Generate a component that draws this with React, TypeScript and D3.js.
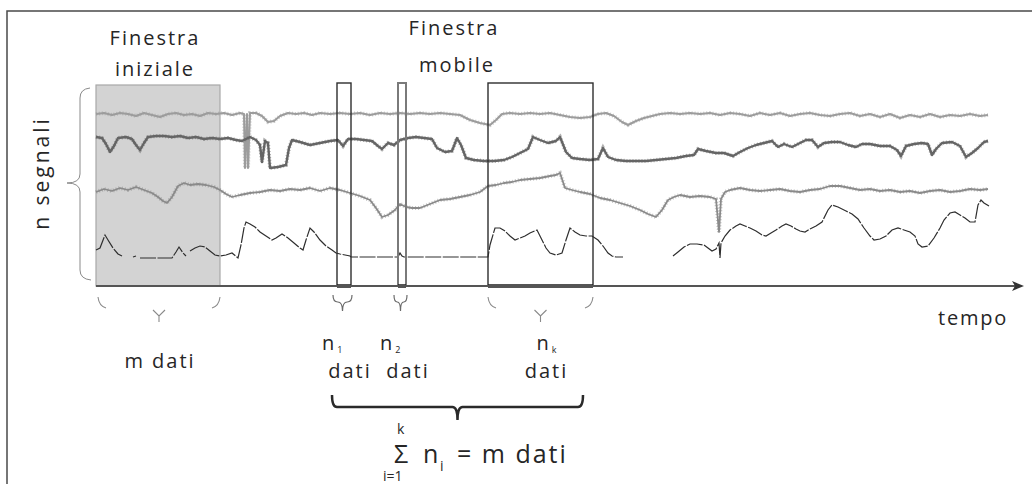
import React from "react";
import * as d3 from "d3";

type P = [number, number | null];

// time axis: samples 0..927, amplitude units 0..202
const signal1: P[] = [[0,171],[8,172],[16,170],[24,172],[32,171],[40,169],[48,172],[56,170],[64,168],[72,171],[80,172],[88,170],[96,171],[104,169],[112,172],[120,171],[128,172],[136,170],[144,172],[148,171],[149,117],[151,171],[152,117],[154,172],[160,172],[166,169],[172,163],[178,164],[184,169],[192,172],[200,171],[208,172],[216,170],[224,172],[234,171],[244,172],[254,171],[264,172],[274,170],[284,172],[294,171],[304,172],[314,171],[324,172],[334,171],[344,172],[354,171],[364,170],[374,165],[384,162],[394,160],[400,165],[406,171],[414,172],[424,171],[434,172],[444,171],[454,172],[464,170],[474,168],[484,167],[494,168],[502,171],[510,172],[518,169],[526,163],[532,160],[540,164],[548,167],[556,169],[564,171],[574,172],[584,171],[594,172],[604,171],[614,172],[624,170],[634,172],[644,171],[654,169],[664,172],[674,170],[684,172],[694,169],[704,171],[714,172],[724,170],[734,169],[744,171],[754,172],[764,169],[774,171],[784,168],[794,171],[804,167],[814,170],[824,168],[834,171],[844,168],[854,170],[864,169],[874,171],[884,169],[892,170]];

const signal2: P[] = [[0,148],[6,147],[10,141],[14,133],[18,139],[22,147],[30,148],[36,146],[40,140],[44,135],[48,142],[52,148],[60,149],[68,149],[76,148],[84,149],[92,147],[100,148],[108,146],[116,147],[124,146],[132,147],[140,145],[146,144],[154,148],[160,145],[164,140],[166,123],[169,144],[172,142],[174,117],[182,118],[190,120],[193,137],[196,145],[204,143],[214,140],[224,142],[234,144],[242,145],[247,139],[252,146],[260,146],[268,145],[276,144],[282,139],[286,136],[292,142],[298,140],[304,145],[312,147],[320,148],[328,147],[336,146],[341,137],[349,133],[356,134],[361,147],[365,140],[370,127],[378,125],[388,124],[398,124],[408,125],[416,128],[424,132],[432,136],[437,148],[444,145],[452,142],[460,144],[464,148],[470,133],[476,127],[484,126],[494,125],[502,126],[507,137],[512,128],[520,125],[530,124],[540,124],[550,124],[560,125],[570,126],[580,127],[590,129],[598,130],[602,136],[610,134],[620,132],[628,132],[637,129],[644,133],[652,137],[660,140],[668,142],[676,144],[682,138],[688,141],[696,138],[704,142],[710,145],[716,145],[722,138],[728,142],[736,143],[744,143],[752,140],[760,138],[766,141],[774,141],[784,139],[794,139],[801,135],[805,129],[810,139],[818,141],[826,142],[832,141],[836,130],[840,136],[846,142],[856,143],[864,139],[870,128],[876,132],[882,137],[888,143],[892,144]];

const signal3: P[] = [[0,93],[8,96],[16,94],[24,97],[32,95],[40,98],[48,95],[56,92],[62,88],[67,84],[71,82],[76,88],[82,99],[88,102],[94,100],[102,101],[110,100],[118,98],[124,95],[130,91],[136,88],[144,90],[154,92],[164,93],[174,95],[184,94],[194,96],[204,95],[214,97],[224,94],[234,97],[244,95],[254,92],[264,89],[274,85],[280,77],[286,68],[292,70],[299,75],[304,81],[310,78],[316,77],[324,77],[334,81],[344,85],[354,86],[364,88],[374,90],[384,93],[392,99],[400,100],[408,102],[416,103],[424,105],[434,106],[444,107],[454,109],[460,110],[464,112],[469,97],[476,95],[484,93],[494,91],[504,87],[514,85],[524,82],[534,79],[544,75],[552,71],[560,68],[566,75],[572,85],[578,88],[584,90],[594,88],[604,89],[614,88],[620,86],[623,53],[625,86],[629,93],[634,95],[644,97],[654,95],[664,94],[674,95],[684,96],[694,94],[704,93],[714,95],[724,96],[734,99],[744,99],[754,97],[764,95],[774,96],[784,94],[794,95],[804,93],[814,94],[824,92],[834,94],[844,95],[854,93],[864,94],[874,96],[884,95],[892,96]];

const signal4: P[] = [[0,35],[4,37],[9,50],[12,45],[17,37],[22,31],[26,29],[27,null],
[37,28],[40,29],[41,null],
[44,27],[76,27],[80,33],[83,38],[87,32],[90,29],[91,null],
[94,34],[99,37],[104,39],[109,38],[114,34],[119,30],[124,29],[130,30],[136,32],[142,27],[145,40],[148,57],[150,63],[154,61],[159,58],[164,53],[170,49],[176,45],[180,47],[186,51],[192,47],[198,42],[204,37],[207,35],[210,45],[214,57],[218,53],[224,45],[230,39],[236,35],[240,32],[244,31],[254,29],[255,28],[302,28],[304,32],[306,29],[308,28],[392,28],[394,40],[399,57],[404,57],[409,54],[414,49],[419,45],[424,47],[429,49],[434,52],[441,55],[445,47],[450,37],[454,32],[460,30],[466,32],[470,45],[474,57],[479,53],[484,50],[490,49],[496,49],[502,45],[507,39],[512,32],[516,29],[520,28],[527,28],[528,null],
[577,29],[582,33],[588,38],[594,41],[601,41],[608,40],[612,37],[616,34],[620,36],[623,42],[624,27],[625,42],[629,49],[634,55],[640,59],[644,61],[649,59],[654,57],[660,54],[666,50],[670,49],[675,52],[680,55],[686,59],[690,61],[695,59],[700,56],[704,54],[709,53],[714,56],[720,59],[726,63],[732,75],[736,80],[742,78],[750,74],[756,71],[762,66],[768,57],[774,49],[778,45],[784,46],[790,49],[796,55],[802,57],[808,55],[814,53],[819,49],[822,41],[826,38],[832,39],[838,47],[844,57],[848,65],[854,72],[859,73],[864,70],[869,67],[874,63],[879,63],[882,80],[885,85],[888,82],[893,79]];

// windows: [start, end] in samples
const initialWindow: [number, number] = [0, 124];
const movingWindows: [number, number][] = [[241, 255], [302, 310], [392, 497]];
const windowLabels = ["1", "2", "k"];

const W = 1032, H = 484;
const x = d3.scaleLinear().domain([0, 927]).range([96, 1023]);
const y = d3.scaleLinear().domain([0, 202]).range([285, 83]);
const AXIS_Y = 286;

const line = d3.line<P>()
  .defined(d => d[1] !== null)
  .x(d => x(d[0]))
  .y(d => y(d[1] as number));

const TXT = "#262626";
const FONT = "'Open Sans', sans-serif";

function brace(x0: number, x1: number, yy: number, h: number, t: number) {
  const mid = (x0 + x1) / 2;
  const r = Math.min(5, (x1 - x0) / 4);
  return `M${x0},${yy} Q${x0},${yy + h} ${x0 + r},${yy + h} L${mid - r},${yy + h} Q${mid},${yy + h} ${mid},${yy + h + t} Q${mid},${yy + h} ${mid + r},${yy + h} L${x1 - r},${yy + h} Q${x1},${yy + h} ${x1},${yy}`;
}

function partialBrace(x0: number, x1: number) {
  const mid = (x0 + x1) / 2;
  return `M${x0},297 Q${x0 + 1},306 ${x0 + 8},308 M${x1},297 Q${x1 - 1},306 ${x1 - 8},308 M${mid - 6},310 L${mid},316 L${mid + 6},310 M${mid},316 L${mid},322`;
}

export default function App() {
  const [iw0, iw1] = initialWindow;
  const sigs = [
    { d: signal1, c: "#9c9c9c", w: 2 },
    { d: signal2, c: "#656565", w: 2.4 },
    { d: signal3, c: "#8a8a8a", w: 1.8 },
  ];
  return (
    <svg width={W} height={H} style={{ position: "absolute", left: 0, top: 0 }}>
      <rect x={0} y={0} width={W} height={H} fill="#fff" />
      <rect x={7} y={11} width={W + 10} height={H + 10} fill="none" stroke="#4a4a4a" strokeWidth={1.5} />
      {/* initial window */}
      <rect x={x(iw0)} y={y(200)} width={x(iw1) - x(iw0)} height={AXIS_Y - y(200)} fill="#d3d3d3" stroke="#a8a8a8" strokeWidth={1.2} />
      {/* signals */}
      {sigs.map((s, i) => (
        <g key={i}>
          <path d={line(s.d) || ""} fill="none" stroke={s.c} strokeWidth={4} strokeDasharray="1 2" opacity={0.5} />
          <path d={line(s.d) || ""} fill="none" stroke={s.c} strokeWidth={s.w} strokeLinejoin="round" />
        </g>
      ))}
      <path d={line(signal4) || ""} fill="none" stroke="#2e2e2e" strokeWidth={1.2} strokeDasharray="16 1.5" />
      {/* moving windows */}
      {movingWindows.map(([a, b], i) => (
        <g key={i}>
          <rect x={x(a)} y={y(202)} width={x(b) - x(a)} height={AXIS_Y - y(202)} fill="none"
            stroke={i === 1 ? "#7a7a7a" : "#2e2e2e"} strokeWidth={i === 1 ? 2 : 1.4} />
          <line x1={x(a)} x2={x(b)} y1={AXIS_Y} y2={AXIS_Y} stroke="#1e1e1e" strokeWidth={3.5} />
        </g>
      ))}
      {/* axis */}
      <line x1={x(0)} x2={1016} y1={AXIS_Y} y2={AXIS_Y} stroke="#555" strokeWidth={2.2} />
      <path d={`M1024,${AXIS_Y} L1012,${AXIS_Y - 5} L1015,${AXIS_Y} L1012,${AXIS_Y + 5} Z`} fill="#333" />
      <text x={938} y={325} fontFamily={FONT} fontSize={20} letterSpacing={1.8} fill={TXT}>tempo</text>

      {/* left brace */}
      <path d="M90,88 Q80,89 80,98 L80,174 Q80,183 67,183 Q80,183 80,192 L80,270 Q80,279 91,280" fill="none" stroke="#8a8a8a" strokeWidth={1} />
      <text transform="translate(49,173) rotate(-90)" textAnchor="middle" fontFamily={FONT} fontSize={21} letterSpacing={3} fill={TXT}>n segnali</text>

      {/* titles */}
      <text x={155} y={45} textAnchor="middle" fontFamily={FONT} fontSize={20} letterSpacing={2} fill={TXT}>Finestra</text>
      <text x={155} y={76} textAnchor="middle" fontFamily={FONT} fontSize={20} letterSpacing={2} fill={TXT}>iniziale</text>
      <text x={454} y={35} textAnchor="middle" fontFamily={FONT} fontSize={20} letterSpacing={2} fill={TXT}>Finestra</text>
      <text x={457} y={72} textAnchor="middle" fontFamily={FONT} fontSize={20} letterSpacing={2} fill={TXT}>mobile</text>

      {/* bottom braces */}
      <path d={partialBrace(x(iw0) + 2, x(iw1))} fill="none" stroke="#8a8a8a" strokeWidth={1.1} />
      <text x={160} y={368} textAnchor="middle" fontFamily={FONT} fontSize={20} letterSpacing={2} fill={TXT}>m dati</text>
      {movingWindows.map(([a, b], i) => {
        const big = b - a > 50;
        const mid = (x(a) + x(b)) / 2;
        return (
          <g key={i}>
            {big
              ? <path d={partialBrace(x(a), x(b))} fill="none" stroke="#8a8a8a" strokeWidth={1.1} />
              : <path d={brace(x(a) - 4, x(b) + 1, 295, 7, 9)} fill="none" stroke="#6a6a6a" strokeWidth={1.2} />}
            <text x={mid - 22 + (big ? 18 : 0)} y={350} fontFamily={FONT} fontSize={20} fill={TXT}>
              n<tspan dx={3} dy={3} fontSize={9}>{windowLabels[i]}</tspan>
            </text>
            <text x={mid + 6} y={378} textAnchor="middle" fontFamily={FONT} fontSize={20} letterSpacing={2} fill={TXT}>dati</text>
          </g>
        );
      })}
      <path d={brace(332, 583, 395, 12, 13)} fill="none" stroke="#2a2a2a" strokeWidth={2.5} />

      {/* sum formula */}
      <text x={397} y={434} fontFamily={FONT} fontSize={14} fill={TXT}>k</text>
      <text x={394} y={463} fontFamily={FONT} fontSize={25} fill={TXT}>
        Σ<tspan x={423}>n</tspan><tspan x={440} dy={8} fontSize={14}>i</tspan><tspan x={457} dy={-8} letterSpacing={2}>= m dati</tspan>
      </text>
      <text x={383} y={481} fontFamily={FONT} fontSize={14} fill={TXT}>i=1</text>
    </svg>
  );
}
